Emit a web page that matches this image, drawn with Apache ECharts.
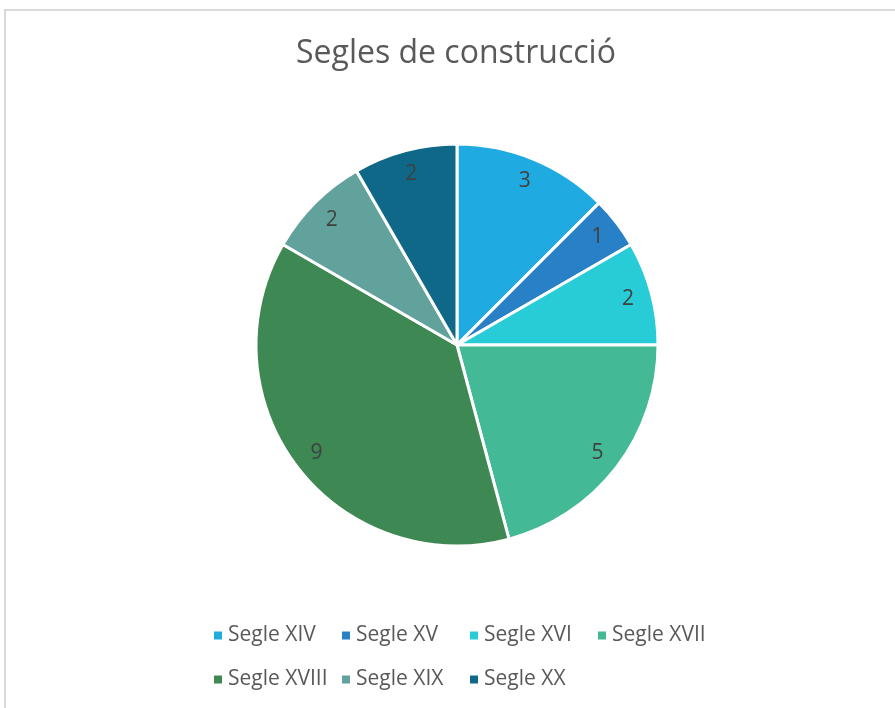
<!DOCTYPE html>
<html>
<head>
<meta charset="utf-8">
<script src="https://cdn.jsdelivr.net/npm/echarts@6/dist/echarts.min.js"></script>
<style>
  html, body { margin: 0; padding: 0; background: #fff; overflow: hidden; }
  .frame {
    position: absolute; left: 4px; top: 9px; width: 1000px; height: 1000px;
    border: 2px solid #d9d9d9;
  }
  #chart { position: absolute; left: 0; top: 0; width: 895px; height: 708px; }
</style>
</head>
<body>
<div class="frame"></div>
<div id="chart"></div>
<script>
// dades del gràfic
const categories = ["Segle XIV", "Segle XV", "Segle XVI", "Segle XVII", "Segle XVIII", "Segle XIX", "Segle XX"];
const values = [3, 1, 2, 5, 9, 2, 2];
const colors = ["#1fabe2", "#2880c6", "#28ccd6", "#43b996", "#3e8853", "#62a29d", "#106889"];

const pieData = categories.map((name, i) => ({
  name: name,
  value: values[i],
  itemStyle: { color: colors[i] }
}));

const font = "'Open Sans', sans-serif";

// llegenda en graella de 4 columnes, com a l'Excel
const legends = categories.map((name, i) => ({
  data: [name],
  left: 207 + (i % 4) * 128,
  top: 620 + Math.floor(i / 4) * 44,
  icon: "rect",
  itemWidth: 10,
  itemHeight: 10,
  textStyle: { fontFamily: font, fontSize: 21, color: "#595959" }
}));

const mychart = echarts.init(document.getElementById("chart"));
mychart.setOption({
  animation: false,
  title: {
    text: "Segles de construcció",
    left: 291,
    top: 33,
    textStyle: { fontFamily: font, fontSize: 32, fontWeight: "normal", color: "#595959" }
  },
  legend: legends,
  series: [
    {
      name: "Segles",
      type: "pie",
      center: [457, 345],
      radius: [0, 201],
      startAngle: 90,
      clockwise: true,
      data: pieData,
      label: { show: false },
      labelLine: { show: false },
      itemStyle: { borderColor: "#fff", borderWidth: 3 },
      emphasis: { scale: false }
    },
    {
      // anell invisible per posar les etiquetes a prop de la vora
      name: "etiquetes",
      type: "pie",
      silent: true,
      center: [457, 345],
      radius: [147, 201],
      startAngle: 90,
      clockwise: true,
      data: categories.map((name, i) => ({ name: name, value: values[i] })),
      itemStyle: { color: "transparent", borderWidth: 0 },
      label: {
        show: true,
        position: "inside",
        formatter: "{c}",
        fontFamily: font,
        fontSize: 21,
        color: "#404040"
      },
      labelLine: { show: false },
      emphasis: { disabled: true }
    }
  ]
});
</script>
</body>
</html>
